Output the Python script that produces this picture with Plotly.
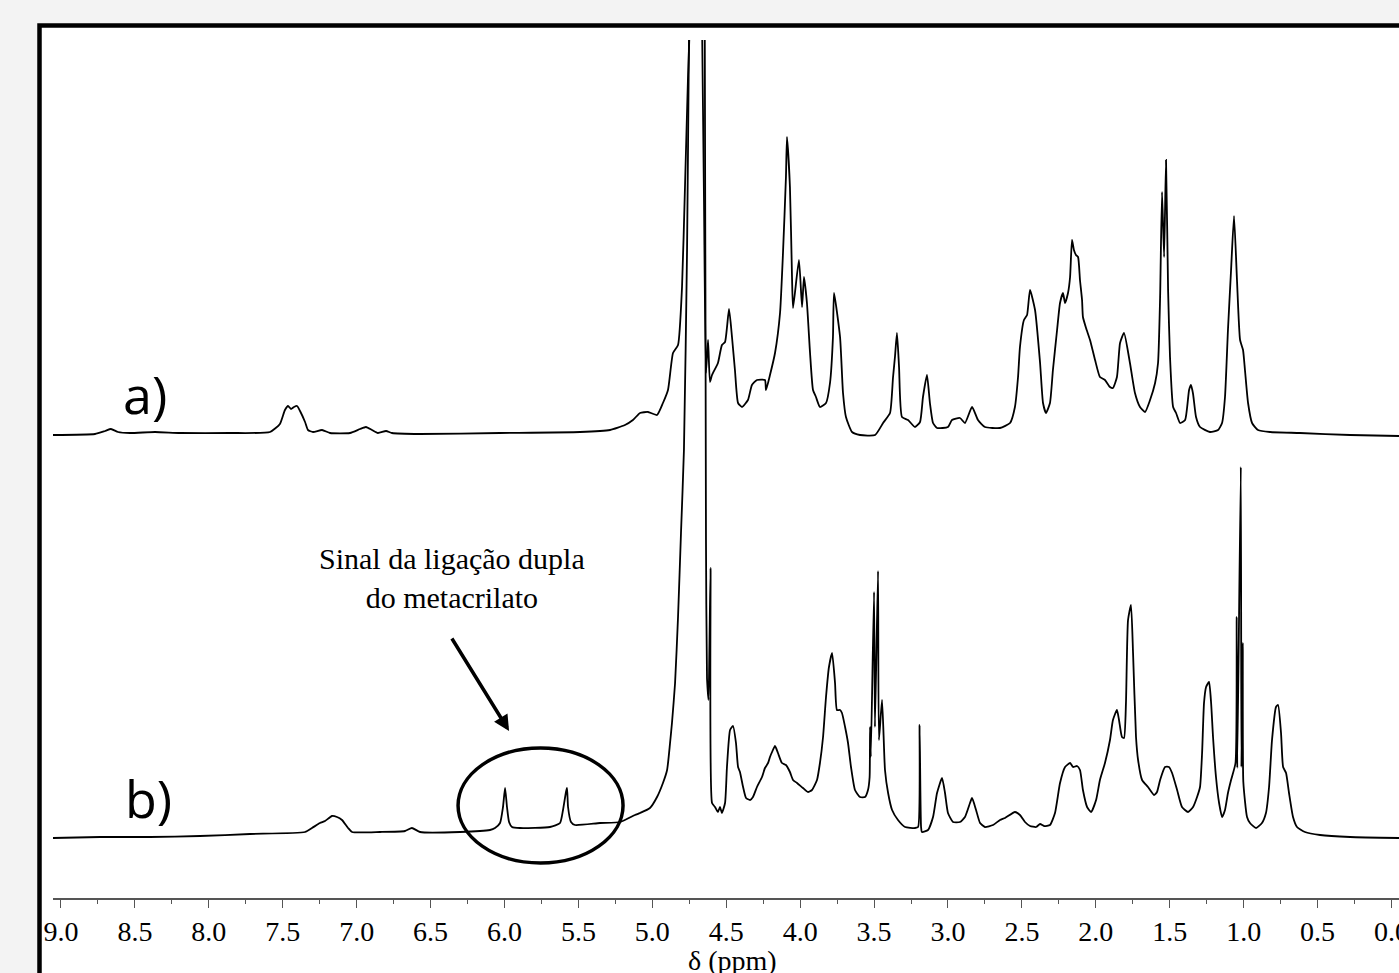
import plotly.graph_objects as go

# ---------------- data ----------------
# spectrum a) : chemical shift (ppm) and intensity (arbitrary units)
ppm_a = [9.054, 8.770, 8.702, 8.662, 8.614, 8.533, 8.364, 8.195, 7.857, 7.586,
         7.519, 7.485, 7.464, 7.444, 7.424, 7.403, 7.383, 7.349, 7.329, 7.295,
         7.234, 7.180, 7.045, 6.977, 6.937, 6.896, 6.856, 6.801, 6.761, 6.571,
         6.030, 5.489, 5.286, 5.185, 5.131, 5.083, 5.029, 4.968, 4.928, 4.894,
         4.860, 4.826, 4.799, 4.779, 4.759, 4.745, 4.731, 4.700, 4.664, 4.650,
         4.637, 4.623, 4.610, 4.596, 4.556, 4.529, 4.508, 4.481, 4.461, 4.441,
         4.420, 4.393, 4.353, 4.326, 4.292, 4.238, 4.231, 4.204, 4.170, 4.136,
         4.116, 4.096, 4.089, 4.069, 4.055, 4.048, 4.008, 3.987, 3.974, 3.954,
         3.933, 3.913, 3.893, 3.866, 3.825, 3.798, 3.778, 3.771, 3.730, 3.710,
         3.690, 3.649, 3.595, 3.493, 3.439, 3.392, 3.372, 3.358, 3.345, 3.331,
         3.311, 3.270, 3.223, 3.189, 3.169, 3.142, 3.122, 3.101, 3.074, 3.000,
         2.973, 2.919, 2.885, 2.837, 2.797, 2.750, 2.648, 2.580, 2.547, 2.526,
         2.513, 2.486, 2.465, 2.445, 2.411, 2.377, 2.357, 2.337, 2.310, 2.290,
         2.262, 2.242, 2.222, 2.208, 2.188, 2.174, 2.161, 2.148, 2.134, 2.120,
         2.107, 2.093, 2.087, 2.066, 2.039, 2.005, 1.972, 1.938, 1.904, 1.884,
         1.857, 1.836, 1.809, 1.769, 1.735, 1.701, 1.667, 1.633, 1.599, 1.579,
         1.565, 1.552, 1.538, 1.525, 1.511, 1.498, 1.477, 1.457, 1.430, 1.396,
         1.369, 1.356, 1.342, 1.322, 1.295, 1.228, 1.173, 1.146, 1.126, 1.106,
         1.085, 1.065, 1.045, 1.024, 1.004, 0.991, 0.970, 0.943, 0.903, 0.822,
         0.619, 0.280, -0.051]
int_a = [1, 2, 5, 7, 4, 3, 4, 3, 3, 4,
         12, 26, 30, 27, 29, 30, 25, 14, 6, 4,
         6, 3, 3, 7, 9, 6, 3, 5, 3, 2,
         3, 4, 6, 11, 16, 23, 24, 21, 33, 46,
         83, 91, 149, 249, 356, 420, 600, 900, 420, 230,
         63, 96, 54, 61, 73, 91, 94, 127, 99, 66,
         33, 29, 36, 51, 56, 56, 46, 61, 83, 123,
         183, 259, 299, 249, 159, 128, 176, 129, 159, 133,
         83, 46, 39, 29, 33, 53, 99, 143, 99, 43,
         19, 4, 1, 1, 13, 23, 58, 80, 103, 69,
         19, 16, 9, 14, 39, 61, 33, 13, 8, 9,
         16, 18, 13, 29, 16, 9, 8, 13, 29, 59,
         89, 116, 121, 146, 126, 73, 33, 23, 33, 66,
         106, 133, 143, 133, 143, 159, 196, 186, 181, 179,
         156, 136, 119, 108, 96, 76, 59, 56, 49, 48,
         59, 93, 103, 73, 43, 29, 24, 36, 53, 73,
         139, 244, 179, 276, 146, 79, 29, 23, 13, 16,
         46, 51, 42, 19, 9, 4, 6, 13, 39, 106,
         166, 220, 156, 96, 86, 66, 33, 13, 6, 4,
         3, 1, 0]

# spectrum b)
ppm_b = [9.054, 8.736, 8.398, 8.060, 7.721, 7.349, 7.302, 7.248, 7.214, 7.167,
         7.133, 7.099, 7.058, 7.031, 6.842, 6.673, 6.626, 6.571, 6.301, 6.098,
         6.064, 6.030, 6.010, 5.996, 5.983, 5.969, 5.949, 5.895, 5.692, 5.624,
         5.604, 5.584, 5.577, 5.570, 5.550, 5.523, 5.354, 5.218, 5.117, 5.083,
         5.016, 4.968, 4.928, 4.900, 4.880, 4.867, 4.846, 4.826, 4.806, 4.786,
         4.765, 4.752, 4.740, 4.700, 4.660, 4.645, 4.637, 4.630, 4.620, 4.606,
         4.596, 4.576, 4.556, 4.542, 4.529, 4.508, 4.495, 4.474, 4.454, 4.434,
         4.420, 4.407, 4.386, 4.366, 4.339, 4.319, 4.292, 4.258, 4.238, 4.217,
         4.204, 4.190, 4.170, 4.150, 4.123, 4.096, 4.069, 4.048, 4.021, 3.981,
         3.947, 3.920, 3.886, 3.866, 3.845, 3.825, 3.805, 3.784, 3.764, 3.751,
         3.730, 3.717, 3.696, 3.676, 3.656, 3.629, 3.595, 3.561, 3.541, 3.530,
         3.527, 3.522, 3.500, 3.494, 3.473, 3.467, 3.446, 3.426, 3.405, 3.378,
         3.338, 3.290, 3.223, 3.202, 3.192, 3.182, 3.176, 3.135, 3.101, 3.074,
         3.040, 3.020, 3.000, 2.966, 2.919, 2.885, 2.851, 2.837, 2.810, 2.783,
         2.750, 2.695, 2.648, 2.614, 2.547, 2.513, 2.479, 2.445, 2.404, 2.377,
         2.350, 2.310, 2.276, 2.242, 2.208, 2.174, 2.154, 2.127, 2.107, 2.087,
         2.059, 2.032, 1.998, 1.972, 1.938, 1.904, 1.884, 1.857, 1.843, 1.823,
         1.809, 1.796, 1.782, 1.762, 1.748, 1.728, 1.714, 1.687, 1.647, 1.606,
         1.586, 1.565, 1.532, 1.505, 1.484, 1.450, 1.417, 1.376, 1.342, 1.315,
         1.295, 1.281, 1.268, 1.254, 1.234, 1.220, 1.207, 1.187, 1.166, 1.146,
         1.126, 1.106, 1.085, 1.055, 1.047, 1.043, 1.019, 1.015, 1.006, 1.002,
         0.977, 0.957, 0.916, 0.876, 0.849, 0.828, 0.808, 0.781, 0.767, 0.747,
         0.733, 0.713, 0.693, 0.666, 0.639, 0.585, 0.483, 0.280, -0.051]
int_b = [0, 1, 1, 2, 4, 6, 10, 15, 17, 22,
         21, 18, 10, 6, 6, 7, 10, 6, 6, 8,
         10, 15, 31, 50, 31, 16, 11, 10, 11, 15,
         28, 46, 50, 31, 16, 13, 15, 16, 23, 25,
         30, 41, 55, 68, 95, 115, 155, 221, 305, 388,
         588, 798, 1000, 1300, 1000, 798, 300, 160, 138, 270,
         35, 31, 26, 31, 25, 35, 71, 108, 112, 95,
         71, 66, 51, 40, 38, 41, 51, 61, 70, 75,
         81, 86, 92, 85, 75, 73, 66, 58, 55, 50,
         46, 48, 58, 75, 101, 141, 171, 185, 155, 128,
         128, 125, 111, 95, 71, 48, 41, 41, 48, 61,
         111, 81, 246, 111, 267, 98, 138, 68, 45, 28,
         18, 11, 10, 11, 113, 11, 6, 8, 21, 45,
         60, 45, 25, 16, 16, 21, 35, 40, 28, 15,
         11, 13, 18, 20, 26, 23, 16, 12, 11, 14,
         12, 13, 25, 55, 71, 75, 71, 72, 68, 48,
         31, 26, 38, 58, 75, 98, 118, 128, 118, 101,
         100, 135, 218, 233, 185, 101, 78, 58, 51, 43,
         46, 58, 71, 71, 65, 48, 31, 26, 31, 41,
         51, 85, 135, 151, 156, 135, 101, 61, 35, 21,
         28, 45, 58, 75, 221, 70, 371, 71, 195, 56,
         21, 15, 10, 15, 25, 51, 98, 131, 133, 105,
         71, 65, 45, 21, 11, 6, 3, 1, 0]

offset_a = 462   # vertical stacking offset of trace a)
offset_b = 60    # vertical stacking offset of trace b)

x_ticks_dtick = 0.5
x_minor_dtick = 0.25
x_range = [9.054, -0.051]
y_range = [0, 858]

# ---------------- figure ----------------
fig = go.Figure()
line_style = dict(color="black", width=1.8, shape="spline", smoothing=0.5)
fig.add_trace(go.Scatter(x=ppm_a, y=[v + offset_a for v in int_a], mode="lines",
                         line=line_style, hoverinfo="skip"))
fig.add_trace(go.Scatter(x=ppm_b, y=[v + offset_b for v in int_b], mode="lines",
                         line=line_style, hoverinfo="skip"))

W, H = 1399, 973
ml, mr, mt, mb = 53, 0, 40, 75
pw, ph = W - ml - mr, H - mt - mb


def px_x(p):
    return (p - ml) / pw


def px_y(p):
    return (H - mb - p) / ph


serif = "Liberation Serif"
sans = "Open Sans"

shapes = [
    # outer frame of the figure
    dict(type="rect", xref="paper", yref="paper",
         x0=px_x(39.5), x1=px_x(1430), y0=px_y(1010), y1=px_y(25.5),
         line=dict(color="black", width=4.5), fillcolor="white", layer="below"),
    # ellipse around the methacrylate double-bond signals
    dict(type="circle", xref="x", yref="y",
         x0=6.314, x1=5.198, y0=35, y1=150,
         line=dict(color="black", width=3.5)),
]

annotations = [
    dict(x=8.432, y=505, xref="x", yref="y", text="a)", showarrow=False,
         font=dict(family=sans, size=52, color="black")),
    dict(x=8.411, y=101, xref="x", yref="y", text="b)", showarrow=False,
         font=dict(family=sans, size=52, color="black")),
    dict(x=6.355, y=320, xref="x", yref="y",
         text="Sinal da ligação dupla<br>do metacrilato", showarrow=False,
         font=dict(family=serif, size=30, color="black"), align="center"),
    dict(x=5.969, y=167, xref="x", yref="y", ax=6.362, ay=261,
         axref="x", ayref="y", text="", showarrow=True,
         arrowhead=2, arrowsize=0.9, arrowwidth=3.5, arrowcolor="black"),
    dict(x=px_x(732), y=px_y(961), xref="paper", yref="paper",
         xanchor="center", yanchor="middle",
         text="δ (ppm)", showarrow=False,
         font=dict(family=serif, size=28, color="black")),
]

fig.update_layout(
    width=W, height=H,
    margin=dict(l=ml, r=mr, t=mt, b=mb, pad=0, autoexpand=False),
    paper_bgcolor="#f3f3f3",
    plot_bgcolor="white",
    showlegend=False,
    shapes=shapes,
    annotations=annotations,
    xaxis=dict(range=x_range, dtick=x_ticks_dtick, tick0=0, tickformat=".1f",
               showgrid=False, zeroline=False, showline=True, automargin=False,
               linecolor="#555555", linewidth=1.5,
               ticks="outside", ticklen=8, tickwidth=1.3, tickcolor="#555555",
               minor=dict(dtick=x_minor_dtick, ticks="outside", ticklen=4,
                          tickwidth=1.2, tickcolor="#555555", showgrid=False),
               tickfont=dict(family=serif, size=28, color="black"),
               ticklabelstandoff=0, ticklabeloverflow="allow", fixedrange=True),
    yaxis=dict(range=y_range, visible=False, showgrid=False, zeroline=False,
               fixedrange=True, automargin=False),
)

fig.write_html("out.html", config=dict(displayModeBar=False))
